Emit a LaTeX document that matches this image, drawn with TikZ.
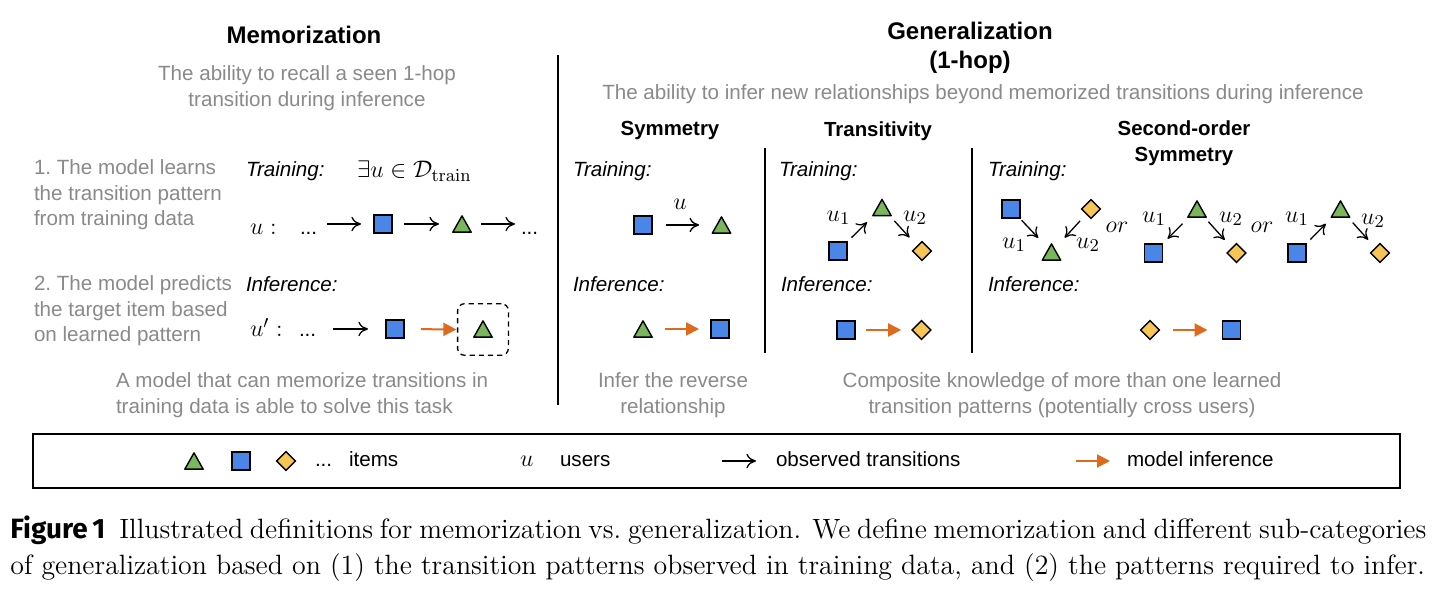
\documentclass[tikz,border=0pt]{standalone}
\usepackage[no-math]{fontspec}
\newfontfamily\arial{Liberation Sans}
\newfontfamily\figsans{Fira Sans}
\usetikzlibrary{arrows.meta,shapes.geometric}
\definecolor{bluesq}{HTML}{4A86E8}
\definecolor{greentri}{HTML}{78B75C}
\definecolor{yellowdia}{HTML}{F5C556}
\definecolor{orng}{HTML}{DE6A1E}
\definecolor{graytxt}{HTML}{8A8A8A}
\begin{document}
\begin{tikzpicture}[x=0.5pt,y=-0.5pt,
  txt/.style={font=\arial\fontsize{10.3}{12.8}\selectfont, inner sep=0pt, outer sep=0pt},
  gtxt/.style={txt, text=graytxt},
  itx/.style={font=\arial\itshape\fontsize{10.3}{12.8}\selectfont, inner sep=0pt, outer sep=0pt},
  ttl/.style={font=\arial\bfseries\fontsize{12}{14.5}\selectfont, inner sep=0pt},
  subhd/.style={font=\arial\bfseries\fontsize{10.2}{13}\selectfont, inner sep=0pt},
  mth/.style={font=\fontsize{13}{15}\selectfont, inner sep=0pt, outer sep=0pt},
  sq/.style={draw, fill=bluesq, line width=0.7pt, minimum size=9pt, inner sep=0pt, outer sep=0pt},
  dia/.style={diamond, aspect=1, draw, fill=yellowdia, line width=0.7pt, minimum width=9.3pt, minimum height=9.3pt, inner sep=0pt, outer sep=0pt},
  tri/.style={rectangle, minimum width=10pt, minimum height=9pt, inner sep=0pt, outer sep=0pt,
    path picture={\draw[line width=0.7pt, fill=greentri, line join=round]
      ([shift={(0.4pt,0.4pt)}]path picture bounding box.south west) --
      ([shift={(-0.4pt,0.4pt)}]path picture bounding box.south east) --
      ([yshift=-0.45pt]path picture bounding box.north) -- cycle;}},
  dbox/.style={draw, dash pattern=on 2.6pt off 2pt, line width=0.65pt, rounded corners=3.5pt,
    minimum width=25.4pt, minimum height=25.8pt, inner sep=0pt, outer sep=0pt},
  obsarr/.style={line width=0.65pt, -{To[length=4.8pt,width=7.2pt]}},
  infarr/.style={draw=orng, line width=1pt, -{Triangle[length=6.5pt,width=6.5pt]}},
  sepline/.style={line width=0.8pt}]
\fill[white] (0,0) rectangle (1442,597);
\useasboundingbox (0,0) rectangle (1442,597);

% ---------------- Memorization ----------------
\node[ttl] (memT) at (304,35) {Memorization};
\node[gtxt, align=center] (memD) at (307,88) {The ability to recall a seen 1-hop\\transition during inference};
\node[gtxt, align=left, anchor=west] (step1) at (34,195) {1.\ The model learns\\the transition pattern\\from training data};
\node[gtxt, align=left, anchor=west] (step2) at (34,311) {2.\ The model predicts\\the target item based\\on learned pattern};
\node[itx, anchor=base west] (memTr) at (246,177) {Training:};
\node[mth, anchor=base west] (exist) at (357,178) {$\exists u\in\mathcal{D}_{\mathrm{train}}$};

\node[mth, anchor=base west] (ulab) at (250,235) {$u:$};
\node[txt, anchor=base west] (d1) at (300,235) {...};
\node[sq] (s1) at (383,224) {};
\node[tri] (t1) at (462,224) {};
\node[txt, anchor=base west] (d2) at (521,235) {...};
\draw[obsarr, shorten <=5pt, shorten >=6.5pt] (d1.east |- s1.west) -- (s1.west);
\draw[obsarr, shorten <=6pt, shorten >=6.5pt] (s1.east) -- (t1.west);
\draw[obsarr, shorten <=4.5pt, shorten >=3pt] (t1.east) -- (t1.east -| d2.west);

\node[itx, anchor=base west] (memInf) at (246,292) {Inference:};
\node[mth, anchor=base west] (uplab) at (250,337) {$u':$};
\node[txt, anchor=base west] (d3) at (299,337) {...};
\node[sq] (s2) at (395,329) {};
\node[dbox] (box) at (483,329.5) {};
\node[tri] (t2) at (483,329) {};
\draw[obsarr, shorten <=8.5pt, shorten >=9pt] (d3.east |- s2.west) -- (s2.west);
\draw[infarr, shorten <=8.5pt, shorten >=0.6pt] (s2.east) -- (box.west);

\node[gtxt, align=left, anchor=west] (memB) at (116,395) {A model that can memorize transitions in\\training data is able to solve this task};

\draw[sepline] (558,55) -- (558,405);

% ---------------- Generalization ----------------
\node[ttl, align=center] (genT) at (970,48) {Generalization\\(1-hop)};
\node[gtxt] (genD) at (983,94) {The ability to infer new relationships beyond memorized transitions during inference};
\node[subhd] (symT) at (670,131) {Symmetry};
\node[subhd] (traT) at (878,131) {Transitivity};
\node[subhd, align=center] (soT) at (1184,143) {Second-order\\Symmetry};
\draw[sepline] (765,148) -- (765,353);
\draw[sepline] (972,148) -- (972,353);

% Symmetry
\node[itx, anchor=base west] (symTr) at (573,177) {Training:};
\node[sq] (symS) at (643,225) {};
\node[tri] (symTri) at (721.5,225) {};
\node[mth] (symU) at (680,204) {$u$};
\draw[obsarr, shorten <=7pt, shorten >=6.2pt] (symS.east) -- (symTri.west);
\node[itx, anchor=base west] (symInf) at (573,292) {Inference:};
\node[tri] (symTri2) at (643,329) {};
\node[sq] (symS2) at (720,329) {};
\draw[infarr, shorten <=6pt, shorten >=6pt] (symTri2.east) -- (symS2.west);
\node[gtxt, align=center] (symD) at (673,395) {Infer the reverse\\relationship};

% Transitivity
\node[itx, anchor=base west] (traTr) at (779,177) {Training:};
\node[tri] (traTri) at (882,207.5) {};
\node[sq] (traS) at (838,251) {};
\node[dia] (traD) at (922,251) {};
\node[mth] (traU1) at (838.5,218) {$u_1$};
\node[mth] (traU2) at (915,218) {$u_2$};
\draw[obsarr, shorten <=3.2pt, shorten >=4.1pt] (traS) -- (traTri);
\draw[obsarr, shorten <=3pt, shorten >=5.9pt] (traTri) -- (traD);
\node[itx, anchor=base west] (traInf) at (781,292) {Inference:};
\node[sq] (traS2) at (846,330) {};
\node[dia] (traD2) at (921.5,330) {};
\draw[infarr, shorten <=5.5pt, shorten >=5.5pt] (traS2.east) -- (traD2.west);

% Second-order symmetry
\node[itx, anchor=base west] (soTr) at (988,177) {Training:};
\node[sq] (soS1) at (1011,209) {};
\node[dia] (soD1) at (1091,209) {};
\node[tri] (soT1) at (1051.5,252) {};
\node[mth] (soU11) at (1014,245) {$u_1$};
\node[mth] (soU12) at (1088,245) {$u_2$};
\draw[obsarr, shorten <=1.6pt, shorten >=3.5pt] (soS1) -- (soT1);
\draw[obsarr, shorten <=4.8pt, shorten >=3.6pt] (soD1) -- (soT1);
\node[mth] (or1) at (1117,227) {$or$};

\node[tri] (soT2) at (1197,209) {};
\node[sq] (soS2) at (1153.5,253) {};
\node[dia] (soD2) at (1236.5,253) {};
\node[mth] (soU21) at (1154,219) {$u_1$};
\node[mth] (soU22) at (1231,219) {$u_2$};
\draw[obsarr, shorten <=4pt, shorten >=3.7pt] (soT2) -- (soS2);
\draw[obsarr, shorten <=2.5pt, shorten >=5.5pt] (soT2) -- (soD2);
\node[mth] (or2) at (1262,227) {$or$};

\node[sq] (soS3) at (1297,253) {};
\node[tri] (soT3) at (1340.5,209) {};
\node[dia] (soD3) at (1380,253) {};
\node[mth] (soU31) at (1297,219) {$u_1$};
\node[mth] (soU32) at (1373,221) {$u_2$};
\draw[obsarr, shorten <=3.2pt, shorten >=4.1pt] (soS3) -- (soT3);
\draw[obsarr, shorten <=3.1pt, shorten >=5.6pt] (soT3) -- (soD3);

\node[itx, anchor=base west] (soInf) at (988,292) {Inference:};
\node[dia] (soD4) at (1150,330) {};
\node[sq] (soS4) at (1231.5,330) {};
\draw[infarr, shorten <=6.8pt, shorten >=7.5pt] (soD4.east) -- (soS4.west);
\node[gtxt, align=center] (soDesc) at (1062,395) {Composite knowledge of more than one learned\\transition patterns (potentially cross users)};

% ---------------- Legend ----------------
\draw[line width=0.9pt] (33,434) rectangle (1400,488);
\node[tri] (lgT) at (194,461) {};
\node[sq] (lgS) at (241,461) {};
\node[dia] (lgD) at (286,461) {};
\node[txt, anchor=base west] (lgDots) at (315,467) {...};
\node[txt, anchor=base west] (lgItems) at (349,467) {items};
\node[mth, anchor=base west] (lgU) at (520,467) {$u$};
\node[txt, anchor=base west] (lgUsers) at (560,467) {users};
\coordinate (oa1) at (722,461);
\coordinate (oa2) at (756,461);
\draw[obsarr] (oa1) -- (oa2);
\node[txt, anchor=base west] (lgObs) at (776,467) {observed transitions};
\coordinate (ia1) at (1076,461);
\coordinate (ia2) at (1110,461);
\draw[infarr] (ia1) -- (ia2);
\node[txt, anchor=base west] (lgInf) at (1127,467) {model inference};

% ---------------- Caption ----------------
\node[anchor=base west, inner sep=0pt, font=\fontsize{13.95}{16}\selectfont] (cap1) at (10,539)
  {\makebox[708pt][s]{{\figsans\bfseries Figure\,1}\hspace{0.5em}Illustrated definitions for memorization vs.\ generalization. We define memorization and different sub-categories}};
\node[anchor=base west, inner sep=0pt, font=\fontsize{13.95}{16}\selectfont] (cap2) at (10,575)
  {of generalization based on (1) the transition patterns observed in training data, and (2) the patterns required to infer.};
\end{tikzpicture}
\end{document}
